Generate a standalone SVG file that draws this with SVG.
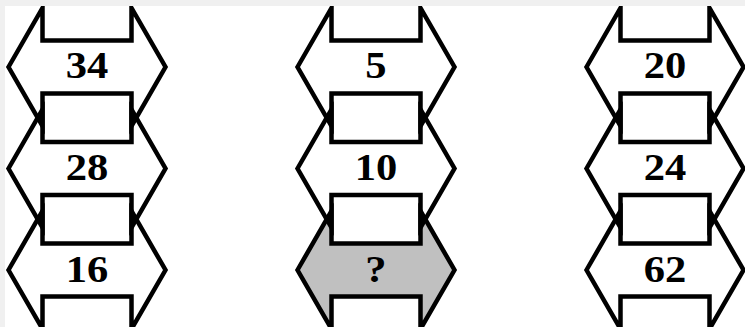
<svg xmlns="http://www.w3.org/2000/svg" xmlns:xlink="http://www.w3.org/1999/xlink" width="745" height="327" viewBox="0 0 745 327">
<style>
.tile{fill:none;stroke:#000;stroke-width:4.5;stroke-linejoin:miter;stroke-miterlimit:6}
.gray{fill:#c0c0c0;stroke:none}
.frame{fill:#f0f0f0}
.lbl{font-family:"Liberation Serif","Times New Roman",serif;font-weight:bold;font-size:37px;text-anchor:middle;fill:#000}
</style>
<defs>
<path id="hex" d="M-78.5,0 L-44.5,-59 L-44.5,-26.5 L44.5,-26.5 L44.5,-59 L78.5,0 L44.5,59 L44.5,26.5 L-44.5,26.5 L-44.5,59 Z"/>
</defs>
<rect x="0" y="0" width="745" height="327" fill="#fff"/>
<use xlink:href="#hex" class="gray" transform="translate(376,270)"/>
<g id="c1r1"><use xlink:href="#hex" class="tile" transform="translate(87,67)"/><text class="lbl" transform="translate(87,77.5) scale(1.15,1)">34</text></g>
<g id="c1r2"><use xlink:href="#hex" class="tile" transform="translate(87,168.5)"/><text class="lbl" transform="translate(87,180) scale(1.15,1)">28</text></g>
<g id="c1r3"><use xlink:href="#hex" class="tile" transform="translate(87,270)"/><text class="lbl" transform="translate(87,282) scale(1.15,1)">16</text></g>
<g id="c2r1"><use xlink:href="#hex" class="tile" transform="translate(376,67)"/><text class="lbl" transform="translate(376,77.5) scale(1.15,1)">5</text></g>
<g id="c2r2"><use xlink:href="#hex" class="tile" transform="translate(376,168.5)"/><text class="lbl" transform="translate(376,180) scale(1.15,1)">10</text></g>
<g id="c2r3"><use xlink:href="#hex" class="tile" transform="translate(376,270)"/><text class="lbl" transform="translate(376,282) scale(1.15,1)">?</text></g>
<g id="c3r1"><use xlink:href="#hex" class="tile" transform="translate(665,67)"/><text class="lbl" transform="translate(665,77.5) scale(1.15,1)">20</text></g>
<g id="c3r2"><use xlink:href="#hex" class="tile" transform="translate(665,168.5)"/><text class="lbl" transform="translate(665,180) scale(1.15,1)">24</text></g>
<g id="c3r3"><use xlink:href="#hex" class="tile" transform="translate(665,270)"/><text class="lbl" transform="translate(665,282) scale(1.15,1)">62</text></g>
<rect class="frame" x="0" y="0" width="745" height="6"/>
<rect class="frame" x="0" y="0" width="5" height="327"/>
</svg>
